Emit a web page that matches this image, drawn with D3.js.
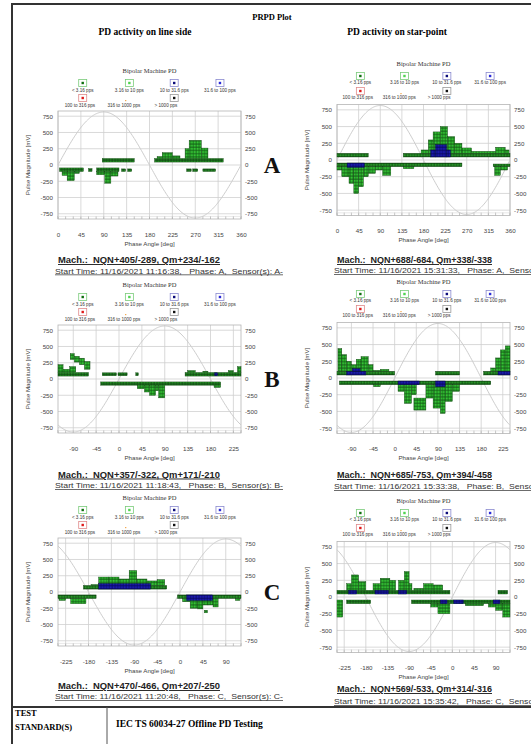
<!doctype html>
<html>
<head>
<meta charset="utf-8">
<title>PRPD Plot</title>
<script src="https://cdn.jsdelivr.net/npm/d3@7"></script>
<style>
body { margin: 0; background: #fff; }
svg text { font-family: "Liberation Sans", Arial, sans-serif; }
.serif { font-family: "Liberation Serif", "Times New Roman", serif !important; }
.cap { white-space: pre; text-decoration: underline; }
</style>
</head>
<body>
<svg width="531" height="744"></svg>
<script>
// ---------- data ----------
var legendLabels = ["< 3.16 pps", "3.16 to 10 pps", "10 to 31.6 pps", "31.6 to 100 pps",
                    "100 to 316 pps", "316 to 1000 pps", "> 1000 pps"];
var legendColors = ["#0c6e0c", "#4fd44f", "#0b0b7a", "#2a2ad8", "#e01818", "#f0a040", "#111111"];
var legendBorders = ["#7acb7a", "#7acb7a", "#8a8ad0", "#8a8ad0", "#e08a8a", null, "#999999"];

var magTicks = [-750, -500, -250, 0, 250, 500, 750];
var phaseTicksA = [0, 45, 90, 135, 180, 225, 270, 315, 360];
var phaseTicksB = [-90, -45, 0, 45, 90, 135, 180, 225];
var phaseTicksC = [-225, -180, -135, -90, -45, 0, 45, 90];
var domainA = [0, 360], domainB = [-120, 240], domainC = [-240, 120];

// [phase from, phase to, mV low, mV high, class]  s = dense strip, g = green, b = blue
var lineA = [
  [3, 50, -100, -45, "s"], [8, 18, -160, -100, "g"], [18, 32, -240, -100, "g"], [32, 42, -130, -100, "g"],
  [60, 67, -100, -55, "s"], [76, 120, -100, -45, "s"], [125, 133, -100, -60, "s"], [137, 145, -100, -60, "s"],
  [76, 92, -150, -100, "g"], [92, 104, -280, -100, "g"], [104, 118, -170, -100, "g"],
  [87, 150, 45, 100, "s"], [190, 325, 45, 100, "s"],
  [195, 205, 100, 130, "g"], [205, 225, 100, 190, "g"], [225, 240, 100, 140, "g"],
  [250, 258, 100, 250, "g"], [258, 282, 100, 380, "g"], [282, 295, 100, 260, "g"],
  [253, 262, -100, -60, "s"], [265, 275, -100, -60, "s"], [285, 310, -100, -60, "s"]
];
var lineB = [
  [-120, -60, 45, 100, "s"], [-120, -110, 100, 220, "g"], [-110, -97, 100, 150, "g"], [-97, -85, 100, 190, "g"],
  [-96, -88, 300, 390, "g"], [-88, -78, 260, 350, "g"], [-78, -68, 220, 320, "g"], [-68, -57, 150, 270, "g"],
  [-33, -5, 50, 95, "s"], [-2, 16, 50, 95, "s"], [33, 38, 50, 95, "s"],
  [-36, 200, -95, -45, "s"],
  [36, 50, -150, -95, "g"], [50, 60, -200, -95, "g"], [60, 72, -250, -95, "g"], [72, 78, -180, -95, "g"],
  [78, 90, -290, -95, "g"], [187, 200, -130, -95, "g"],
  [130, 240, 45, 100, "s"], [135, 150, 100, 130, "g"], [165, 175, 100, 120, "g"], [215, 225, 100, 130, "g"],
  [233, 240, 100, 190, "g"], [188, 194, 50, 95, "b"]
];
var lineC = [
  [-240, -165, -100, -45, "s"], [-238, -225, -130, -100, "g"], [-215, -185, -180, -100, "g"],
  [-190, -26, 45, 100, "s"],
  [-175, -160, 100, 115, "g"], [-160, -140, 100, 230, "g"], [-140, -120, 100, 230, "g"], [-120, -100, 100, 200, "g"],
  [-100, -85, 100, 330, "g"], [-85, -65, 100, 200, "g"], [-65, -45, 100, 170, "g"], [-45, -30, 100, 190, "g"],
  [-160, -58, 45, 130, "b"],
  [-5, 120, -100, -45, "s"],
  [5, 20, -150, -100, "g"], [20, 35, -250, -100, "g"], [35, 45, -260, -100, "g"], [45, 55, -200, -100, "g"],
  [48, 54, -320, -280, "g"], [55, 65, -200, -100, "g"], [65, 75, -230, -100, "g"],
  [13, 64, -130, -45, "b"], [109, 118, -130, -100, "g"]
];
var starA = [
  [0, 65, 45, 100, "s"], [138, 360, 45, 100, "s"],
  [175, 190, 100, 150, "g"], [190, 200, 100, 300, "g"], [200, 215, 100, 420, "g"], [215, 230, 100, 500, "g"],
  [230, 245, 100, 350, "g"], [245, 260, 100, 250, "g"], [260, 280, 100, 180, "g"], [280, 330, 100, 130, "g"],
  [330, 350, 100, 190, "g"], [350, 358, 100, 150, "g"],
  [195, 205, 45, 150, "b"], [205, 228, 45, 230, "b"], [228, 236, 45, 150, "b"],
  [0, 260, -100, -45, "s"],
  [0, 10, -150, -100, "g"], [10, 25, -250, -100, "g"], [25, 35, -350, -100, "g"], [35, 45, -500, -100, "g"],
  [45, 55, -400, -100, "g"], [55, 65, -250, -100, "g"], [65, 80, -200, -100, "g"], [80, 95, -150, -100, "g"],
  [95, 112, -230, -100, "g"], [138, 160, -130, -100, "g"],
  [21, 57, -110, -45, "b"],
  [325, 360, -100, -60, "s"], [328, 340, -230, -100, "g"], [340, 355, -150, -100, "g"]
];
var starB = [
  [-120, 0, 45, 100, "s"],
  [-118, -110, 100, 440, "g"], [-110, -100, 100, 350, "g"], [-100, -90, 100, 250, "g"], [-90, -80, 100, 200, "g"],
  [-80, -70, 100, 280, "g"], [-70, -55, 100, 320, "g"], [-55, -45, 100, 200, "g"], [-45, -30, 100, 115, "g"],
  [-30, -12, 100, 130, "g"],
  [-100, -60, 45, 100, "b"], [-88, -72, 100, 140, "b"],
  [85, 135, 45, 100, "s"], [185, 240, 45, 100, "s"],
  [200, 210, 100, 150, "g"], [210, 220, 100, 300, "g"], [220, 230, 100, 420, "g"], [230, 240, 100, 480, "g"],
  [215, 240, 45, 100, "b"],
  [-115, 200, -100, -45, "s"],
  [-44, -30, -130, -100, "g"], [7, 20, -200, -100, "g"], [20, 35, -380, -100, "g"], [35, 45, -250, -100, "g"],
  [40, 65, -480, -300, "g"], [65, 80, -300, -100, "g"], [80, 95, -450, -100, "g"], [95, 105, -530, -100, "g"],
  [105, 120, -350, -100, "g"], [120, 135, -200, -100, "g"],
  [7, 51, -100, -45, "b"], [85, 105, -130, -45, "b"]
];
var starC = [
  [-240, -5, 45, 100, "s"],
  [-220, -210, 100, 200, "g"], [-210, -195, 100, 330, "g"], [-195, -180, 100, 230, "g"],
  [-165, -150, 100, 200, "g"], [-150, -130, 100, 280, "g"], [-130, -118, 100, 250, "g"],
  [-112, -100, 100, 250, "g"], [-100, -90, 100, 380, "g"], [-90, -84, 100, 200, "g"],
  [-80, -60, 100, 130, "g"], [-60, -40, 100, 200, "g"], [-40, -20, 100, 180, "g"],
  [-216, -199, 45, 100, "b"], [-161, -133, 45, 100, "b"], [-112, -95, 45, 100, "b"],
  [95, 115, 45, 100, "s"],
  [-240, -228, -300, -45, "g"], [-220, -170, -100, -45, "s"], [-85, 120, -100, -45, "s"],
  [-45, -30, -150, -100, "g"], [-30, -5, -250, -100, "g"], [27, 65, -130, -100, "g"],
  [75, 90, -150, -100, "g"], [90, 105, -200, -100, "g"], [105, 120, -300, -100, "g"],
  [-25, -11, -100, -45, "b"], [3, 23, -100, -45, "b"], [85, 99, -100, -45, "b"]
];

var machLabels = {
  lineA: "Mach.:  NQN+405/-289, Qm+234/-162", lineB: "Mach.:  NQN+357/-322, Qm+171/-210",
  lineC: "Mach.:  NQN+470/-466, Qm+207/-250", starA: "Mach.:  NQN+688/-684, Qm+338/-338",
  starB: "Mach.:  NQN+685/-753, Qm+394/-458", starC: "Mach.:  NQN+569/-533, Qm+314/-316"
};
var startLabels = {
  lineA: "Start Time: 11/16/2021 11:16:38,   Phase: A,  Sensor(s): A-",
  lineB: "Start Time: 11/16/2021 11:18:43,   Phase: B,  Sensor(s): B-",
  lineC: "Start Time: 11/16/2021 11:20:48,   Phase: C,  Sensor(s): C-",
  starA: "Start Time: 11/16/2021 15:31:33,   Phase: A,  Sensor(s): A-",
  starB: "Start Time: 11/16/2021 15:33:38,   Phase: B,  Sensor(s): B-",
  starC: "Start Time: 11/16/2021 15:35:42,   Phase: C,  Sensor(s): C-"
};

// ---------- layout ----------
var cols = {
  line: { x0: 58, x1: 241, h: 54, off: { title: -93, r1b: -82, r1l: -74, r2b: -67, r2l: -59, xl: 71, xt: 79 },
          machW: 162, startW: 228 },
  star: { x0: 337, x1: 510, h: 55.5, off: { title: -95, r1b: -84, r1l: -77, r2b: -69, r2l: -62, xl: 72, xt: 80 },
          machW: 155, startW: 226 }
};
// machY / startY are text baselines
var panels = [
  { key: "lineA", col: "line", zero: 165, domain: domainA, ticks: phaseTicksA, bars: lineA, letter: "A", machY: 263, startY: 273.5 },
  { key: "lineB", col: "line", zero: 379, domain: domainB, ticks: phaseTicksB, bars: lineB, letter: "B", machY: 477.5, startY: 488 },
  { key: "lineC", col: "line", zero: 592, domain: domainC, ticks: phaseTicksC, bars: lineC, letter: "C", machY: 689, startY: 699 },
  { key: "starA", col: "star", zero: 160, domain: domainA, ticks: phaseTicksA, bars: starA, machY: 263, startY: 273 },
  { key: "starB", col: "star", zero: 378, domain: domainB, ticks: phaseTicksB, bars: starB, machY: 478, startY: 489 },
  { key: "starC", col: "star", zero: 597, domain: domainC, ticks: phaseTicksC, bars: starC, machY: 692, startY: 704 }
];

var svg = d3.select("svg");
var defs = svg.append("defs");

function cellPattern(id, edge, inner) {
  var p = defs.append("pattern").attr("id", id).attr("patternUnits", "userSpaceOnUse")
    .attr("width", 2.8).attr("height", 3.2);
  p.append("rect").attr("width", 2.8).attr("height", 3.2).attr("fill", edge);
  p.append("rect").attr("x", 0.5).attr("y", 0.5).attr("width", 2).attr("height", 2.3).attr("fill", inner);
}
cellPattern("pg", "#125c15", "#36c836");
cellPattern("ps", "#0d420f", "#2a9a2a");
cellPattern("pb", "#07075e", "#1d1db4");
var fills = { g: "url(#pg)", s: "url(#ps)", b: "url(#pb)" };

// ---------- page frame ----------
svg.append("line").attr("x1", 12).attr("x2", 12).attr("y1", 3).attr("y2", 744).attr("stroke", "#333").attr("stroke-width", 2);
svg.append("line").attr("x1", 11).attr("x2", 531).attr("y1", 4).attr("y2", 4).attr("stroke", "#333").attr("stroke-width", 2);
svg.append("line").attr("x1", 11).attr("x2", 531).attr("y1", 707).attr("y2", 707).attr("stroke", "#333").attr("stroke-width", 2);
svg.append("line").attr("x1", 107).attr("x2", 107).attr("y1", 707).attr("y2", 744).attr("stroke", "#555").attr("stroke-width", 1);

svg.append("text").attr("class", "serif").attr("x", 272).attr("y", 20).attr("text-anchor", "middle")
  .attr("font-size", 8.5).attr("font-weight", "bold").text("PRPD Plot");
svg.append("text").attr("class", "serif").attr("x", 145).attr("y", 35).attr("text-anchor", "middle")
  .attr("font-size", 9.5).attr("font-weight", "bold").text("PD activity on line side");
svg.append("text").attr("class", "serif").attr("x", 397).attr("y", 35).attr("text-anchor", "middle")
  .attr("font-size", 9.5).attr("font-weight", "bold").text("PD activity on star-point");

svg.append("text").attr("class", "serif").attr("x", 15).attr("y", 716).attr("font-size", 8.5)
  .attr("font-weight", "bold").text("TEST");
svg.append("text").attr("class", "serif").attr("x", 15).attr("y", 730).attr("font-size", 8.5)
  .attr("font-weight", "bold").text("STANDARD(S)");
svg.append("text").attr("class", "serif").attr("x", 116).attr("y", 727).attr("font-size", 9.5)
  .attr("font-weight", "bold").text("IEC TS 60034-27 Offline PD Testing");

// ---------- panels ----------
panels.forEach(function(p) {
  var c = cols[p.col], o = c.off, z = p.zero;
  var g = svg.append("g");
  var x = d3.scaleLinear().domain(p.domain).range([c.x0, c.x1]);
  var y = d3.scaleLinear().domain([-830, 830]).range([z + c.h, z - c.h]);
  var cx = (c.x0 + c.x1) / 2, w = c.x1 - c.x0;

  // title + legend
  g.append("text").attr("class", "serif").attr("x", cx).attr("y", z + o.title).attr("text-anchor", "middle")
    .attr("dominant-baseline", "middle").attr("font-size", 6.5).attr("fill", "#333").text("Bipolar Machine PD");
  var boxX = [0.135, 0.39, 0.635, 0.885, 0.135, 0.37, 0.635];
  var labX = [0.135, 0.39, 0.635, 0.885, 0.12, 0.36, 0.59];
  legendLabels.forEach(function(lab, i) {
    var row = i < 4 ? 0 : 1;
    var bx = c.x0 + boxX[i] * w, by = z + (row ? o.r2b : o.r1b);
    if (legendBorders[i]) {
      g.append("rect").attr("x", bx - 4).attr("y", by - 3.5).attr("width", 8).attr("height", 7)
        .attr("fill", "#fff").attr("stroke", legendBorders[i]).attr("stroke-width", 0.8);
      g.append("rect").attr("x", bx - 1.2).attr("y", by - 1.2).attr("width", 2.4).attr("height", 2.4)
        .attr("fill", legendColors[i]);
    } else {
      g.append("rect").attr("x", bx - 0.6).attr("y", by + 2).attr("width", 1.2).attr("height", 1.2)
        .attr("fill", legendColors[i]);
    }
    g.append("text").attr("x", c.x0 + labX[i] * w).attr("y", z + (row ? o.r2l : o.r1l))
      .attr("text-anchor", "middle").attr("dominant-baseline", "middle")
      .attr("font-size", 4.6).attr("fill", "#333").text(lab);
  });

  // grid
  g.selectAll(".hg").data(magTicks).enter().append("line")
    .attr("x1", c.x0).attr("x2", c.x1).attr("y1", y).attr("y2", y)
    .attr("stroke", "#cfcfcf").attr("stroke-width", 0.8);
  g.selectAll(".vg").data(p.ticks).enter().append("line")
    .attr("x1", x).attr("x2", x).attr("y1", z - c.h).attr("y2", z + c.h)
    .attr("stroke", "#cfcfcf").attr("stroke-width", 0.8);
  g.append("rect").attr("x", c.x0).attr("y", z - c.h).attr("width", w).attr("height", 2 * c.h)
    .attr("fill", "none").attr("stroke", "#b5b5b5").attr("stroke-width", 0.8);
  var minor = d3.range(Math.ceil(p.domain[0] / 15) * 15, p.domain[1] + 1, 15);
  g.selectAll(".mt").data(minor).enter().append("line")
    .attr("x1", x).attr("x2", x).attr("y1", z + c.h).attr("y2", z + c.h - 3)
    .attr("stroke", "#aaa").attr("stroke-width", 0.7);
  g.append("line").attr("x1", c.x0).attr("x2", c.x1).attr("y1", y(-790)).attr("y2", y(-790))
    .attr("stroke", "#d8d8d8").attr("stroke-width", 0.6);

  // reference sine
  var sinePts = d3.range(p.domain[0], p.domain[1] + 1, 2);
  g.append("path").datum(sinePts)
    .attr("d", d3.line().x(function(d) { return x(d); })
      .y(function(d) { return y(815 * Math.sin(d * Math.PI / 180)); }))
    .attr("fill", "none").attr("stroke", "#cdcdcd").attr("stroke-width", 1);

  // PD clusters
  ["s", "g", "b"].forEach(function(cls) {
    g.selectAll(".bar-" + cls).data(p.bars.filter(function(d) { return d[4] === cls; })).enter().append("rect")
      .attr("x", function(d) { return x(d[0]); })
      .attr("width", function(d) { return x(d[1]) - x(d[0]); })
      .attr("y", function(d) { return y(d[3]); })
      .attr("height", function(d) { return y(d[2]) - y(d[3]); })
      .attr("fill", fills[cls])
      .attr("stroke", cls === "b" ? "#06064a" : "#0c3f0c").attr("stroke-width", 0.4);
  });

  // axes
  var ax = function(sel) {
    sel.select(".domain").remove();
    sel.selectAll("text").attr("font-size", 6.2).attr("fill", "#444")
      .attr("font-family", "'Liberation Sans', Arial, sans-serif");
  };
  var fmt = function(d) { return String(d); };
  g.append("g").attr("transform", "translate(" + (c.x0 - 2) + ",0)")
    .call(d3.axisLeft(y).tickValues(magTicks).tickFormat(fmt).tickSize(0).tickPadding(3)).call(ax);
  g.append("g").attr("transform", "translate(" + (c.x1 + 1) + ",0)")
    .call(d3.axisRight(y).tickValues(magTicks).tickFormat(fmt).tickSize(0).tickPadding(3)).call(ax);
  g.append("g").attr("transform", "translate(0," + (z + o.xl - 3) + ")")
    .call(d3.axisBottom(x).tickValues(p.ticks).tickFormat(fmt).tickSize(0).tickPadding(0)).call(ax);

  g.append("text").attr("x", cx).attr("y", z + o.xt).attr("text-anchor", "middle")
    .attr("dominant-baseline", "middle").attr("font-size", 6.2).attr("fill", "#444").text("Phase Angle [deg]");
  g.append("text").attr("transform", "translate(" + (c.x0 - 30) + "," + z + ") rotate(-90)")
    .attr("text-anchor", "middle").attr("dominant-baseline", "middle")
    .attr("font-size", 6.2).attr("fill", "#444").text("Pulse Magnitude [mV]");

  // captions
  g.append("text").attr("class", "cap").attr("x", c.x0).attr("y", p.machY)
    .attr("font-size", 9.5).attr("font-weight", "bold").attr("fill", "#222")
    .attr("textLength", c.machW).attr("lengthAdjust", "spacingAndGlyphs").text(machLabels[p.key]);
  g.append("text").attr("class", "cap").attr("x", c.x0 - 3).attr("y", p.startY)
    .attr("font-size", 7.2).attr("fill", "#333")
    .attr("textLength", c.startW).attr("lengthAdjust", "spacingAndGlyphs").text(startLabels[p.key]);

  if (p.letter) {
    g.append("text").attr("class", "serif").attr("x", 272).attr("y", z + 8).attr("text-anchor", "middle")
      .attr("font-size", 23).attr("font-weight", "bold").attr("fill", "#111").text(p.letter);
  }
});
</script>
</body>
</html>
